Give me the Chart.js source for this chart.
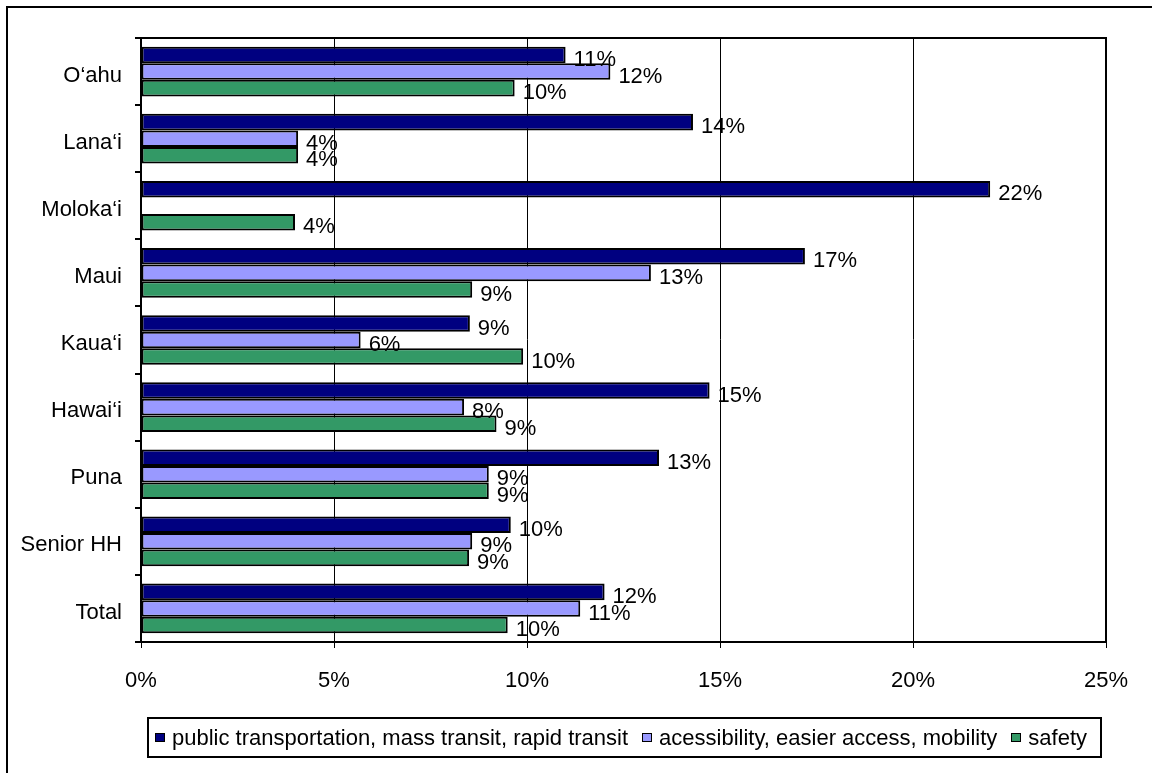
<!DOCTYPE html>
<html>
<head>
<meta charset="utf-8">
<script src="https://cdn.jsdelivr.net/npm/chart.js@4.4.1/dist/chart.umd.min.js"></script>
<style>
  body { margin:0; background:#fff; font-family:"Liberation Sans", Arial, sans-serif; }
  #wrap { position:relative; width:1152px; height:773px; overflow:hidden; }
  #frame { position:absolute; left:6px; top:6px; width:2000px; height:2000px; border:2px solid #000; }
  #ch { position:absolute; left:0; top:0; }
  #legend {
    position:absolute; left:147px; top:717px; width:955px; height:41px; box-sizing:border-box;
    border:2px solid #000; display:flex; align-items:center; padding-left:6px;
    font-size:22px; color:#000; white-space:nowrap;
  }
  #legend .it { display:flex; align-items:center; margin-right:14px; }
  #legend .mk { width:8px; height:7px; border:1.5px solid #000; margin-right:7px; }
</style>
</head>
<body>
<div id="wrap">
  <div id="frame"></div>
  <canvas id="ch" width="1152" height="773"></canvas>
  <div id="legend"></div>
</div>
<script>
// ---- datos
const regiones = ['O‘ahu', 'Lana‘i', 'Moloka‘i', 'Maui', 'Kaua‘i', 'Hawai‘i', 'Puna', 'Senior HH', 'Total'];
const series = ['public transportation, mass transit, rapid transit', 'acessibility, easier access, mobility', 'safety'];
const transporte = [11.0, 14.3, 22.0, 17.2, 8.52, 14.73, 13.42, 9.58, 12.01];
const acceso     = [12.16, 4.07, null, 13.21, 5.69, 8.37, 9.01, 8.58, 11.38];
const seguridad  = [9.68, 4.07, 3.99, 8.58, 9.9, 9.21, 9.01, 8.5, 9.5];
const xTicks = [0, 5, 10, 15, 20, 25];
const colores = ['#000080', '#9999FF', '#339966'];

const FONT = { family: '"Liberation Sans", Arial, sans-serif', size: 22 };

// etiquetas de valor al final de cada barra
const valueLabels = {
  id: 'valueLabels',
  afterDatasetsDraw(chart){
    const ctx = chart.ctx;
    ctx.save();
    ctx.font = `${FONT.size}px ${FONT.family}`;
    ctx.fillStyle = '#000';
    ctx.textAlign = 'left';
    ctx.textBaseline = 'middle';
    chart.data.datasets.forEach((ds, i) => {
      chart.getDatasetMeta(i).data.forEach((bar, j) => {
        const v = ds.data[j];
        if (v == null) return;
        ctx.fillText(Math.round(v) + '%', bar.x + 8, bar.y + 5);
      });
    });
    ctx.restore();
  }
};

// borde del área de trazado (arriba y derecha)
const plotBox = {
  id: 'plotBox',
  beforeDatasetsDraw(chart){
    const a = chart.chartArea, ctx = chart.ctx;
    ctx.save();
    ctx.strokeStyle = '#000'; ctx.lineWidth = 2;
    ctx.beginPath();
    ctx.moveTo(a.left - 6, a.top); ctx.lineTo(a.right, a.top); ctx.lineTo(a.right, a.bottom);
    ctx.stroke();
    ctx.restore();
  }
};

const datos = [transporte, acceso, seguridad];

new Chart(document.getElementById('ch'), {
  type: 'bar',
  data: {
    labels: regiones,
    datasets: series.map((name, i) => ({
      label: name,
      data: datos[i],
      backgroundColor: colores[i],
      borderColor: '#000',
      borderWidth: 2,
      borderSkipped: false,
      categoryPercentage: 0.74,
      barPercentage: 1.0
    }))
  },
  options: {
    indexAxis: 'y',
    responsive: false,
    animation: false,
    layout: { padding: { top: 38, right: 46, left: 0, bottom: 0 } },
    scales: {
      x: {
        min: 0, max: 25,
        afterBuildTicks: s => { s.ticks = xTicks.map(v => ({ value: v })); },
        afterFit: s => { s.height = 131; },
        ticks: { color: '#000', font: FONT, padding: 20, callback: v => v + '%' },
        grid: { color: '#000', lineWidth: 1, tickLength: 6 },
        border: { color: '#000', width: 2 }
      },
      y: {
        afterFit: s => { s.width = 141; },
        ticks: { color: '#000', font: FONT, padding: 13, labelOffset: 4 },
        grid: { drawOnChartArea: false, offset: true, color: '#000', tickLength: 6, lineWidth: 2 },
        border: { color: '#000', width: 2 }
      }
    },
    plugins: { legend: { display: false }, tooltip: { enabled: false } }
  },
  plugins: [plotBox, valueLabels]
});

// leyenda
const leg = document.getElementById('legend');
series.forEach((name, i) => {
  const it = document.createElement('span'); it.className = 'it';
  const mk = document.createElement('span'); mk.className = 'mk'; mk.style.background = colores[i];
  it.appendChild(mk);
  it.appendChild(document.createTextNode(name));
  leg.appendChild(it);
});
</script>
</body>
</html>
